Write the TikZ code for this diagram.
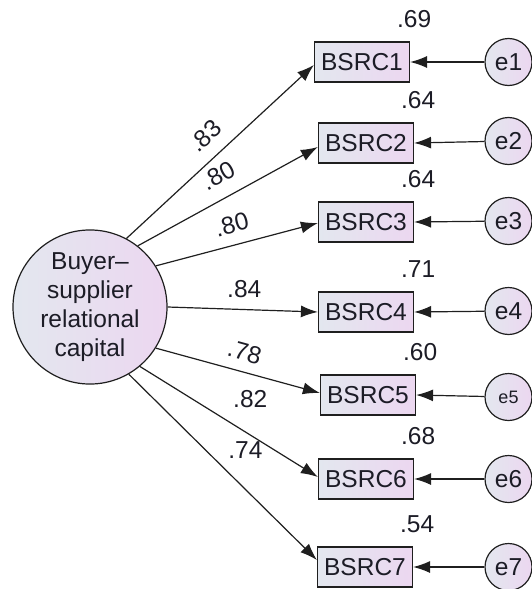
\documentclass[tikz,border=0pt]{standalone}
\usepackage{fontspec}
\setmainfont{Liberation Sans}
\usepackage{xcolor}
\usepackage{tikz}
\usetikzlibrary{arrows.meta}
\usetikzlibrary{shapes.geometric,positioning}

\definecolor{linecol}{HTML}{1F1F1F}
\definecolor{txtcol}{HTML}{1C1C26}
\definecolor{shadeL}{HTML}{E3E7EF}
\definecolor{shadeR}{HTML}{ECD7F0}

\begin{document}
\begin{tikzpicture}[x=1pt,y=-1pt]
  \tikzset{>={Latex[length=17pt,width=12pt]}}
  \tikzset{
    obsbox/.style={draw=linecol,line width=1.2pt,left color=shadeL,right color=shadeR,
      minimum width=95pt,minimum height=40pt,inner sep=0pt,text=txtcol,
      font=\fontsize{24.5}{29}\selectfont},
    errcirc/.style={circle,draw=linecol,line width=1.2pt,left color=shadeL,right color=shadeR,
      minimum size=47pt,inner sep=0pt,text=txtcol,font=\fontsize{24.5}{29}\selectfont},
    latent/.style={ellipse,draw=linecol,line width=1.2pt,left color=shadeL,right color=shadeR,
      minimum width=154pt,minimum height=135pt,inner sep=0pt,align=center,text=txtcol,
      font=\fontsize{24.5}{29}\selectfont},
    coef/.style={text=txtcol,inner sep=3.3pt,font=\fontsize{24.5}{29}\selectfont},
    regpath/.style={->,draw=linecol,line width=1.2pt}
  }
  \useasboundingbox (0,0) rectangle (532,589);

  % the factor on the left
  \node[latent] (F) at (90,307) {Buyer--\\supplier\\relational\\capital};

  % indicators, their error terms and the squared multiple correlations
  \foreach \i/\bx/\by/\ey/\rsq in {1/362/62/62/.69, 2/366/143/141/.64, 3/366/222/221/.64,
      4/366/312/311/.71, 5/368/395/397/.60, 6/366/479/479/.68, 7/365/567/567/.54}{
    \node[obsbox] (b\i) at (\bx,\by) {BSRC\i};
    \node[coef,anchor=south] (r\i) at ([xshift=4pt,yshift=10pt]b\i.north east) {\rsq};
  }
  \node[errcirc] (e1) at (508.5,62) {e1};
  \node[errcirc] (e2) at (508.5,141) {e2};
  \node[errcirc] (e3) at (508.5,221) {e3};
  \node[errcirc] (e4) at (508.5,311) {e4};
  \node[errcirc,font=\fontsize{18}{20}\selectfont] (e5) at (508.5,397) {e5};
  \node[errcirc] (e6) at (508.5,479) {e6};
  \node[errcirc] (e7) at (508.5,567) {e7};

  \foreach \i in {1,...,7}{
    \draw[regpath] (e\i) -- (b\i.east);
  }

  % loadings, sloped ones follow the arrow
  \draw[regpath] (F.62) -- ([yshift=-3pt]b1.west)
    node[coef,pos=0.5,sloped,above=9pt] (l1) {.83};
  \draw[regpath] (F.52) -- ([yshift=-4pt]b2.west)
    node[coef,pos=0.51,sloped,above=10pt] (l2) {.80};
  \draw[regpath] (F.32) -- ([yshift=-1pt]b3.west)
    node[coef,pos=0.5,sloped,above=8pt] (l3) {.80};
  \draw[regpath] (F.0) -- (b4.west)
    node[coef,pos=0.51,above=8pt] (l4) {.84};
  \draw[regpath] (F.-32) -- ([yshift=2pt]b5.west)
    node[coef,pos=0.51,sloped,above=7pt] (l5) {.78};
  \draw[regpath] (F.-50) -- ([yshift=2pt]b6.west)
    node[coef,pos=0.62,above=23pt] (l6) {.82};
  \draw[regpath] (F.-60) -- ([yshift=7pt]b7.west)
    node[coef,pos=0.62,above=27pt] (l7) {.74};
\end{tikzpicture}
\end{document}
